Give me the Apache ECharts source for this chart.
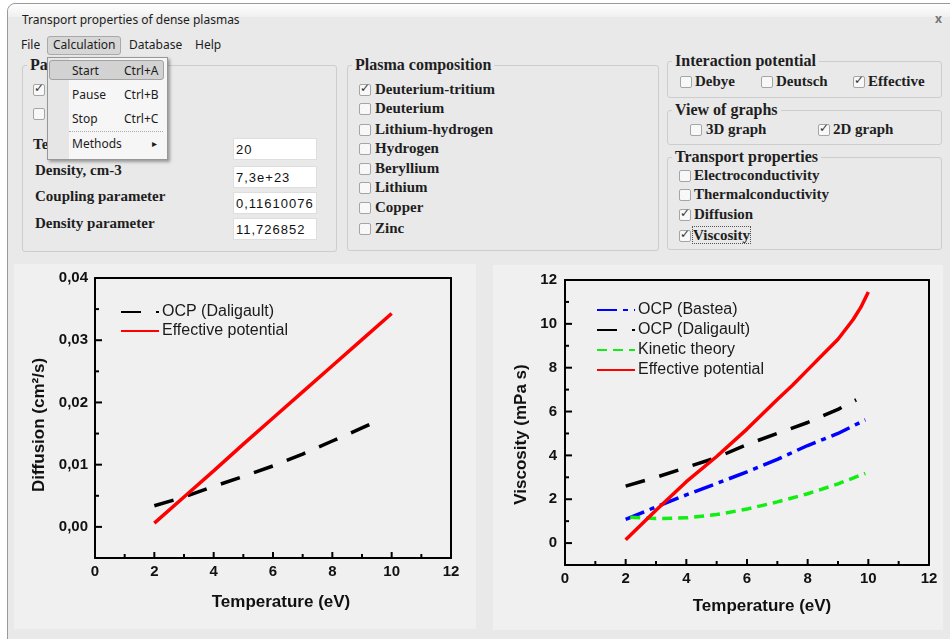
<!DOCTYPE html>
<html>
<head>
<meta charset="utf-8">
<script src="https://cdn.jsdelivr.net/npm/echarts@6/dist/echarts.min.js"></script>
<style>
  body { margin: 0; width: 950px; height: 639px; background: #fff; position: relative; overflow: hidden; }
  .win { position: absolute; left: 7px; top: 3px; width: 960px; height: 650px; background: #e9e9e9; border: 1px solid #9a9a9a; border-radius: 8px 0 0 0; }
  .bar { position: absolute; left: 0; top: 0; right: 0; height: 13px; background: linear-gradient(#fefefe, #f0f0f0); border-radius: 8px 0 0 0; }
  .t { position: absolute; white-space: nowrap; line-height: 18px; }
  .ui { font-family: "Noto Sans", sans-serif; font-size: 12px; color: #1c1c1c; }
  .gt { font-family: "Liberation Serif", serif; font-weight: bold; font-size: 16px; color: #1e1e1e; background: #e9e9e9; padding: 0 3px; }
  .lb { font-family: "Liberation Serif", serif; font-weight: bold; font-size: 15px; color: #1e1e1e; }
  .grp { position: absolute; border: 1px solid #cdcdcd; border-radius: 3px; }
  .cb { position: absolute; width: 10px; height: 10px; border: 1px solid #a5a5a5; background: #f8f8f8; border-radius: 2px; }
  .ck { position: absolute; left: 0px; top: -4px; font-family: "DejaVu Sans"; font-size: 12px; line-height: 14px; color: #333; }
  .inp { position: absolute; width: 84px; height: 22px; background: #fff; border: 1px solid #dedede; box-sizing: border-box;
         font-family: "Liberation Sans", sans-serif; font-size: 13px; letter-spacing: 1px; line-height: 22px; padding-left: 2px; color: #111; }
  .panel { position: absolute; background: #f0f0f0; }
  .menu { position: absolute; left: 47px; top: 57px; width: 119px; height: 101px; background: #f6f6f6; border: 1px solid #979797;
          box-shadow: 2px 2px 3px rgba(0,0,0,0.35); z-index: 10; }
  .gut { position: absolute; left: 0; top: 0; width: 21px; bottom: 0; background: #e6e6e6; }
</style>
</head>
<body>
<div class="win"><div class="bar"></div></div>
<div class="panel" style="left:14px;top:264px;width:462px;height:365px">
  <div id="diffusion" style="width:462px;height:365px"></div>
</div>
<div class="panel" style="left:493px;top:265px;width:450px;height:365px">
  <div id="viscosity" style="width:450px;height:365px"></div>
</div>
<script>
// ---- chart data ----
const diffEffT = [2, 3, 4, 5, 6, 7, 8, 9, 10]
const diffEff = [0.0006, 0.0048, 0.0090, 0.0133, 0.0175, 0.0217, 0.0259, 0.0301, 0.0343]
const diffDalT = [2, 3, 4, 5, 6, 7, 8, 9, 9.6]
const diffDal = [0.0034, 0.0048, 0.0065, 0.0081, 0.0098, 0.0117, 0.0138, 0.0159, 0.0172]

const viscBasteaT = [2, 3, 4, 5, 6, 7, 8, 9, 9.9]
const viscBastea = [1.08, 1.65, 2.2, 2.72, 3.25, 3.82, 4.45, 5.0, 5.62]
const viscDalT = [2, 3, 4, 5, 6, 7, 8, 9, 9.6]
const viscDal = [2.6, 3.0, 3.45, 3.9, 4.5, 5.0, 5.5, 6.1, 6.53]
const viscKinT = [2.15, 3, 4, 5, 6, 7, 8, 9, 9.9]
const viscKin = [1.18, 1.12, 1.15, 1.3, 1.55, 1.88, 2.25, 2.7, 3.18]
const viscEffT = [2, 3, 4, 5, 6, 7, 7.5, 8, 8.5, 9, 9.5, 9.75, 10]
const viscEff = [0.15, 1.5, 2.8, 3.95, 5.2, 6.55, 7.2, 7.9, 8.6, 9.3, 10.2, 10.75, 11.45]

// tick positions (major ones carry labels)
const tempMajor = [0, 2, 4, 6, 8, 10, 12]
const tempMinor = [1, 3, 5, 7, 9, 11]
const diffMajor = [0, 0.01, 0.02, 0.03, 0.04]
const diffMinor = [0.005, 0.015, 0.025, 0.035]
const viscMajor = [0, 2, 4, 6, 8, 10, 12]
const viscMinor = [1, 3, 5, 7, 9, 11]

// ---- window widgets ----
function txt(s, x, cy, cls, parent) {
  const d = document.createElement('div')
  d.className = 't ' + cls
  d.textContent = s
  d.style.left = x + 'px'
  d.style.top = (cy - 9) + 'px'
  ;(parent || document.body).appendChild(d)
  return d
}
function rect(cls, x, y, w, h, parent) {
  const d = document.createElement('div')
  d.className = cls
  d.style.position = 'absolute'
  d.style.left = x + 'px'
  d.style.top = y + 'px'
  d.style.width = w + 'px'
  d.style.height = h + 'px'
  ;(parent || document.body).appendChild(d)
  return d
}
function check(x, cy, on) {
  const b = rect('cb', x, cy - 5, 10, 10)
  if (on) {
    const c = document.createElement('span')
    c.className = 'ck'
    c.textContent = '✓'
    b.appendChild(c)
  }
}
function group(title, x, y, w, h) {
  rect('grp', x, y, w, h)
  txt(title, x + 5, y, 'gt')
}

txt('Transport properties of dense plasmas', 22, 20, 'ui')
const close = txt('x', 935, 19, 'ui')
close.style.color = '#777'
close.style.fontWeight = 'bold'

const hl = rect('', 47, 36, 74, 19)
hl.style.background = '#d6d6d6'
hl.style.border = '1px solid #a9a9a9'
hl.style.borderRadius = '3px'
hl.style.boxSizing = 'border-box'
txt('File', 21, 45, 'ui')
txt('Calculation', 53, 45, 'ui')
txt('Database', 129, 45, 'ui')
txt('Help', 195, 45, 'ui')

// parameters group
group('Parameters', 22, 65, 313, 185)
check(33, 89, true)
check(33, 113, false)
txt('Temperature, eV', 33, 144, 'lb')
txt('Density, cm-3', 35, 170, 'lb')
txt('Coupling parameter', 35, 196, 'lb')
txt('Density parameter', 35, 223, 'lb')
const inputs = [['20', 138], ['7,3e+23', 166], ['0,11610076', 192], ['11,726852', 218]]
inputs.forEach(function (p) {
  const i = rect('inp', 233, p[1], 84, 22)
  i.textContent = p[0]
})

// plasma composition
group('Plasma composition', 347, 65, 310, 184)
const plasmas = ['Deuterium-tritium', 'Deuterium', 'Lithium-hydrogen', 'Hydrogen', 'Beryllium', 'Lithium', 'Copper', 'Zinc']
const plasmaY = [89, 108, 129, 148, 168, 187, 207, 228]
plasmas.forEach(function (s, k) {
  check(359, plasmaY[k], k === 0)
  txt(s, 375, plasmaY[k], 'lb')
})

// right side groups
group('Interaction potential', 667, 61, 273, 35)
check(680, 81, false); txt('Debye', 695, 81, 'lb')
check(761, 81, false); txt('Deutsch', 776, 81, 'lb')
check(853, 81, true); txt('Effective', 868, 81, 'lb')

group('View of graphs', 667, 110, 273, 33)
check(690, 129, false); txt('3D graph', 706, 129, 'lb')
check(818, 129, true); txt('2D graph', 833, 129, 'lb')

group('Transport properties', 667, 157, 273, 91)
check(679, 175, false); txt('Electroconductivity', 694, 175, 'lb')
check(679, 194, false); txt('Thermalconductivity', 694, 194, 'lb')
check(679, 214, true); txt('Diffusion', 694, 214, 'lb')
check(679, 235, true)
const vis = txt('Viscosity', 693, 235, 'lb')
vis.style.outline = '1px dotted #555'
vis.style.lineHeight = '16px'
vis.style.top = '227px'

// dropdown menu
const menu = document.createElement('div')
menu.className = 'menu'
document.body.appendChild(menu)
const gut = document.createElement('div')
gut.className = 'gut'
menu.appendChild(gut)
const sel = rect('', 1, 2, 115, 20, menu)
sel.style.background = '#d2d2d2'
sel.style.border = '1px solid #a2a2a2'
sel.style.borderRadius = '3px'
sel.style.boxSizing = 'border-box'
const items = [['Start', 'Ctrl+A', 13], ['Pause', 'Ctrl+B', 37], ['Stop', 'Ctrl+C', 61], ['Methods', '', 86]]
items.forEach(function (m) {
  txt(m[0], 24, m[2], 'ui', menu)
  if (m[1]) txt(m[1], 76, m[2], 'ui', menu)
})
const sep = rect('', 21, 73, 94, 0, menu)
sep.style.borderTop = '1px dotted #aaa'
const arrow = txt('▸', 104, 85, 'ui', menu)
arrow.style.fontSize = '10px'

// ---- charts ----
function pairs(xs, ys) {
  return xs.map(function (x, k) { return [x, ys[k]] })
}
const black = '#000'
const frameLine = { color: black, width: 2 }
const labelStyle = { color: '#111', fontSize: 15, fontWeight: 'bold', fontFamily: 'Arial' }
const nameStyle = { color: '#111', fontSize: 17, fontWeight: 'bold', fontFamily: 'Arial' }

function frame(pos, min, max) {
  return {
    type: 'value', position: pos, min: min, max: max,
    axisLine: { show: true, onZero: false, lineStyle: frameLine },
    axisTick: { show: false }, axisLabel: { show: false }, splitLine: { show: false }
  }
}
function xAxes(gap, shift) {
  return [{
    type: 'value', min: 0, max: 12, position: 'bottom',
    axisLine: { show: true, onZero: false, lineStyle: frameLine },
    axisTick: { show: false },
    splitLine: { show: false },
    axisLabel: Object.assign({ margin: 6, customValues: tempMajor }, labelStyle),
    name: 'Temperature (eV)', nameLocation: 'middle', nameGap: gap,
    nameTextStyle: Object.assign({ padding: [0, 0, 0, shift] }, nameStyle)
  }, frame('top', 0, 12)]
}
function yAxes(min, max, major, fmt, name, gap, shift, margin) {
  return [{
    type: 'value', min: min, max: max, position: 'left',
    axisLine: { show: true, onZero: false, lineStyle: frameLine },
    axisTick: { show: false },
    splitLine: { show: false },
    axisLabel: Object.assign({ margin: margin, customValues: major, formatter: fmt }, labelStyle),
    name: name, nameLocation: 'middle', nameGap: gap,
    nameTextStyle: Object.assign({ padding: [0, shift, 0, 0] }, nameStyle)
  }, frame('right', min, max)]
}
function line(name, xs, ys, color, dash) {
  return {
    name: name, type: 'line', symbol: 'none', showSymbol: false,
    data: pairs(xs, ys),
    lineStyle: { color: color, width: 3.5, type: dash },
    itemStyle: { color: color }
  }
}
// inward tick marks as small rect symbols sitting on the axes
function ticks(values, fixed, onX, len) {
  return {
    type: 'scatter', silent: true, clip: false, z: 6,
    symbol: 'rect',
    symbolSize: onX ? [2, len] : [len, 2],
    symbolOffset: onX ? [0, -len / 2] : [len / 2, 0],
    itemStyle: { color: black, opacity: 1 },
    data: values.map(function (v) { return onX ? [v, fixed] : [fixed, v] })
  }
}
function legendOpt(left, top, gap, names) {
  return {
    orient: 'vertical', left: left, top: top, padding: 0,
    itemWidth: 38, itemHeight: 14, itemGap: gap,
    itemStyle: { opacity: 0 },
    textStyle: { fontSize: 16, fontFamily: 'Arial', color: '#1a1a1a', lineHeight: 16, padding: [0, 0, 0, -2] },
    data: names
  }
}

const diffChart = echarts.init(document.getElementById('diffusion'))
diffChart.setOption({
  animation: false,
  grid: { left: 81, top: 14, width: 356, height: 280 },
  legend: legendOpt(106, 40, 3, ['OCP (Daligault)', 'Effective potential']),
  xAxis: xAxes(36, 16),
  yAxis: yAxes(-0.005, 0.04, diffMajor, function (v) { return v.toFixed(2).replace('.', ',') },
    'Diffusion (cm²/s)', 47, 14, 7),
  series: [
    ticks(tempMajor, -0.005, true, 6),
    ticks(tempMinor, -0.005, true, 4),
    ticks(diffMajor, 0, false, 7),
    ticks(diffMinor, 0, false, 4),
    line('OCP (Daligault)', diffDalT, diffDal, '#000', [20, 15]),
    line('Effective potential', diffEffT, diffEff, '#ff0000', 'solid')
  ]
})

const viscChart = echarts.init(document.getElementById('viscosity'))
viscChart.setOption({
  animation: false,
  grid: { left: 72, top: 15, width: 364, height: 285 },
  legend: legendOpt(103, 37, 4, ['OCP (Bastea)', 'OCP (Daligault)', 'Kinetic theory', 'Effective potential']),
  xAxis: xAxes(33, 30),
  yAxis: yAxes(-1, 12, viscMajor, function (v) { return String(v) },
    'Viscosity (mPa s)', 34, 24, 8),
  series: [
    ticks(tempMajor, -1, true, 6),
    ticks(tempMinor, -1, true, 4),
    ticks(viscMajor, 0, false, 7),
    ticks(viscMinor, 0, false, 4),
    line('OCP (Bastea)', viscBasteaT, viscBastea, '#0000ff', [20, 6, 5, 6]),
    line('OCP (Daligault)', viscDalT, viscDal, '#000', [20, 15]),
    line('Kinetic theory', viscKinT, viscKin, '#11ee11', [10, 6]),
    line('Effective potential', viscEffT, viscEff, '#ff0000', 'solid')
  ]
})
</script>
</body>
</html>
